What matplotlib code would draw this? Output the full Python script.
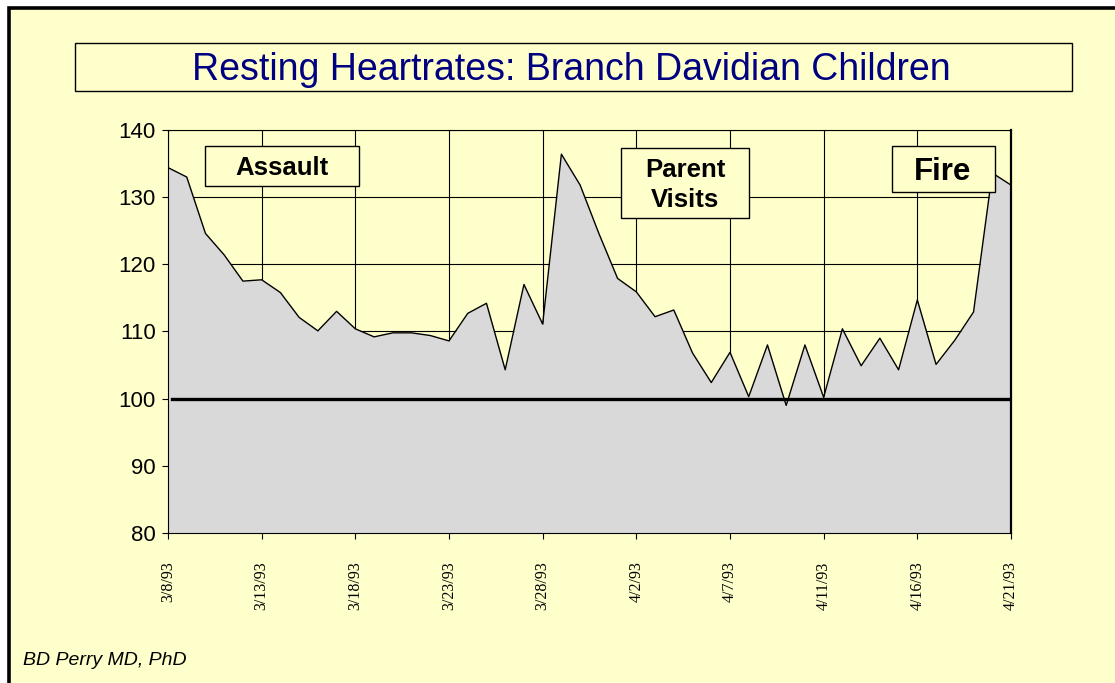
import numpy as np
import matplotlib
matplotlib.use('Agg')
import matplotlib.pyplot as plt
from matplotlib.patches import Rectangle

W, H = 1115, 683
YELLOW = '#FFFFCC'
NAVY = '#000080'
FILL = '#D9D9D9'

# resting heart rate, one value per reading (46 readings, 3/8/93 .. 4/21/93)
heart_rate = [134.4, 133.0, 124.6, 121.4, 117.5, 117.7, 115.8, 112.1, 110.1, 113.0,
              110.4, 109.2, 109.8, 109.8, 109.4, 108.6, 112.7, 114.2, 104.3, 117.0,
              111.1, 136.4, 131.8, 124.6, 117.9, 115.9, 112.2, 113.2, 106.8, 102.4,
              106.9, 100.3, 108.0, 99.0, 108.0, 100.2, 110.4, 104.9, 109.0, 104.3,
              114.7, 105.1, 108.7, 112.9, 133.6, 131.8]
tick_labels = ['3/8/93', '3/13/93', '3/18/93', '3/23/93', '3/28/93',
               '4/2/93', '4/7/93', '4/11/93', '4/16/93', '4/21/93']
y_ticks = [80, 90, 100, 110, 120, 130, 140]
baseline = 100
title = 'Resting Heartrates: Branch Davidian Children'
credit = 'BD Perry MD, PhD'


def px(x, y):
    return x / W, 1 - y / H


def box(fig, x0, y0, x1, y1):
    fig.add_artist(Rectangle(px(x0, y1), (x1 - x0) / W, (y1 - y0) / H,
                             transform=fig.transFigure, facecolor=YELLOW,
                             edgecolor='black', lw=1.0, zorder=3))


def main():
    plt.rcParams['font.family'] = 'Liberation Sans'
    fig = plt.figure(figsize=(W / 100, H / 100), dpi=100, facecolor='white')

    # yellow page with heavy black frame on top/left
    fig.add_artist(Rectangle((8.5 / W, -0.05), 1.1, 1.05 - 8.5 / H,
                             transform=fig.transFigure, facecolor=YELLOW,
                             edgecolor='black', lw=2.6, zorder=-1))

    ax = fig.add_axes([168 / W, 1 - 533 / H, (1011 - 168) / W, (533 - 130) / H])
    ax.set_facecolor(YELLOW)
    x = np.arange(len(heart_rate))
    ax.fill_between(x, y_ticks[0], heart_rate, color=FILL, lw=0, zorder=2)
    ax.plot(x, heart_rate, color='black', lw=1.0, zorder=3)
    ax.axhline(baseline, xmin=0.005, xmax=0.996, color='black', lw=2.4, zorder=4)

    ax.set_xlim(0, len(heart_rate) - 1)
    ax.set_ylim(y_ticks[0], y_ticks[-1])
    ax.set_xticks(x[::5], tick_labels)
    ax.set_yticks(y_ticks)
    ax.grid(True, color='black', lw=0.8)
    ax.set_axisbelow(True)
    for s in ['left', 'bottom', 'top']:
        ax.spines[s].set_linewidth(0.8)
    ax.spines['right'].set_linewidth(1.6)
    ax.tick_params(axis='y', direction='out', length=4, width=0.8, labelsize=16, pad=5)
    ax.tick_params(axis='x', direction='out', length=4.5, width=0.8, labelsize=11.5, pad=16)
    plt.setp(ax.get_xticklabels(), rotation=90, va='top', ha='center', family='Liberation Serif')

    # title
    box(fig, 75, 43, 1072, 91)
    fig.text(*px(571, 80), title, ha='center', va='baseline', fontsize=27, color=NAVY, zorder=4)

    # event labels
    box(fig, 205, 146, 359, 186)
    fig.text(*px(282, 175), 'Assault', ha='center', va='baseline', fontsize=18.5, fontweight='bold', zorder=4)
    box(fig, 621, 148, 749, 218)
    fig.text(*px(685, 185), 'Parent\nVisits', ha='center', va='center', fontsize=18.5,
             fontweight='bold', linespacing=1.3, zorder=4)
    box(fig, 892, 146, 995, 192)
    fig.text(*px(943, 180), 'Fire', ha='center', va='baseline', fontsize=22.5, fontweight='bold', zorder=4)

    fig.text(*px(23, 665), credit, ha='left', va='baseline', fontsize=14, style='italic')

    fig.savefig('out.png', dpi=100, facecolor=fig.get_facecolor())
    plt.close(fig)


if __name__ == '__main__':
    main()
